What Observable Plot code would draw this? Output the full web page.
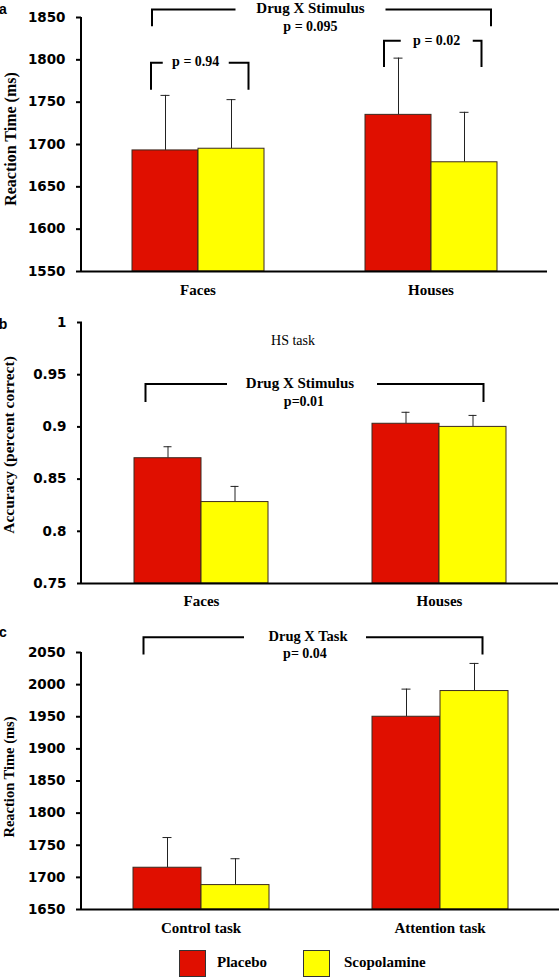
<!DOCTYPE html>
<html><head><meta charset="utf-8">
<script src="https://cdn.jsdelivr.net/npm/d3@7"></script>
<script src="https://cdn.jsdelivr.net/npm/@observablehq/plot@0.6"></script>
<style>
body{margin:0;background:#fff;}
#chart{width:560px;}
#chart svg{display:block;overflow:visible;}
g[aria-label^="y-axis"] text{font:bold 13.5px "DejaVu Sans",Verdana,sans-serif;fill:#000;}
g[aria-label="y-axis tick"]{stroke:#000;stroke-width:2px;}
g[aria-label^="fx-axis"] text{font:bold 15px "Liberation Serif","Times New Roman",serif;fill:#000;}
.legend{position:relative;height:38px;width:560px;font:bold 15px "Liberation Serif","Times New Roman",serif;}
.legend .sw{position:absolute;top:10px;width:25px;height:25px;border:1px solid #333;}
.legend .lb{position:absolute;top:15px;line-height:15px;}
</style></head><body><div id="chart"></div><script>
// ---- shared ----
const drugs = ["Placebo", "Scopolamine"];
const colors = ["#e00f00", "#ffff00"];

// ---- panel a ----
const aGroups = ["Faces", "Houses"];
const aPlacebo = [1693, 1735];
const aPlaceboErr = [65, 67];
const aScop = [1695, 1679];
const aScopErr = [58, 59];
const aTicks = [1550, 1600, 1650, 1700, 1750, 1800, 1850];

// ---- panel b ----
const bGroups = ["Faces", "Houses"];
const bPlacebo = [0.870, 0.903];
const bPlaceboErr = [0.011, 0.011];
const bScop = [0.828, 0.900];
const bScopErr = [0.015, 0.011];
const bTicks = [0.75, 0.8, 0.85, 0.9, 0.95, 1];

// ---- panel c ----
const cGroups = ["Control task", "Attention task"];
const cPlacebo = [1715, 1950];
const cPlaceboErr = [47, 43];
const cScop = [1688, 1990];
const cScopErr = [41, 43];
const cTicks = [1650, 1700, 1750, 1800, 1850, 1900, 1950, 2000, 2050];

const SERIF = '"Liberation Serif","Times New Roman",serif';
const SANS = '"Liberation Sans",Arial,sans-serif';
const container = document.getElementById("chart");

function panel(cfg) {
  const rows = [];
  cfg.groups.forEach((g, i) => {
    rows.push({group: g, drug: drugs[0], value: cfg.placebo[i], err: cfg.placeboErr[i]});
    rows.push({group: g, drug: drugs[1], value: cfg.scop[i], err: cfg.scopErr[i]});
  });
  const base = cfg.ticks[0];
  const svg = Plot.plot({
    width: 560, height: cfg.height,
    marginTop: cfg.mt, marginBottom: cfg.mb, marginLeft: 81, marginRight: cfg.mr,
    facet: {data: rows, x: "group", label: null},
    fx: {domain: cfg.groups, padding: 0, label: null, axis: "bottom", tickSize: 0, tickPadding: cfg.fxPad},
    x: {domain: drugs, axis: null, paddingInner: 0, paddingOuter: cfg.pad},
    y: {domain: [cfg.ticks[0], cfg.ticks[cfg.ticks.length - 1]], ticks: cfg.ticks, tickFormat: d => String(d), tickSize: 5, tickPadding: 11, label: null},
    color: {domain: drugs, range: colors},
    marks: [
      Plot.ruleX(rows, {x: "drug", y1: "value", y2: d => d.value + d.err, stroke: "#222", strokeWidth: 1}),
      Plot.tickY(rows, {x: "drug", y: d => d.value + d.err, stroke: "#222", strokeWidth: 1, insetLeft: cfg.capInset, insetRight: cfg.capInset}),
      Plot.barY(rows, {x: "drug", y1: base, y2: "value", fill: "drug", stroke: "#3a2a20", strokeWidth: 1}),
      Plot.ruleY([base], {stroke: "#000", strokeWidth: 2})
    ]
  });
  container.appendChild(svg);

  const ys = svg.scale("y");
  const Y = d3.scaleLinear().domain(ys.domain).range(ys.range);
  const sr = svg.getBoundingClientRect();
  const bars = Array.from(svg.querySelectorAll('g[aria-label="bar"] rect'))
    .map(r => { const b = r.getBoundingClientRect(); return {x: b.left - sr.left, w: b.width}; })
    .sort((p, q) => p.x - q.x);
  const cx = (gi, di) => { const b = bars[gi * 2 + di]; return b.x + b.w / 2; };

  const o = d3.select(svg).append("g").attr("aria-label", "annotations");
  // y-axis line
  o.append("line").attr("x1", 81).attr("x2", 81)
    .attr("y1", Y(cfg.ticks[cfg.ticks.length - 1])).attr("y2", Y(base))
    .attr("stroke", "#000").attr("stroke-width", 2);
  // y title
  o.append("text").attr("transform", `translate(${cfg.tx},${cfg.ty}) rotate(-90)`)
    .attr("text-anchor", "middle").attr("font-family", SERIF).attr("font-weight", "bold")
    .attr("font-size", cfg.tsize).attr("fill", "#000").text(cfg.ytitle);
  // panel letter
  o.append("text").attr("x", 3).attr("y", cfg.ly).attr("font-family", SANS).attr("font-weight", "bold")
    .attr("font-size", 14).attr("fill", "#000").text(cfg.letter);
  // extra plain text
  (cfg.extra || []).forEach(t => {
    o.append("text").attr("x", t.x).attr("y", t.y).attr("text-anchor", "middle")
      .attr("font-family", SERIF).attr("font-size", t.size).attr("fill", "#000").text(t.text);
  });
  // brackets
  cfg.brackets.forEach(br => {
    const x1 = cx(br.from[0], br.from[1]) + br.from[2];
    const x2 = cx(br.to[0], br.to[1]) + br.to[2];
    const yt = Y(br.top), yp = Y(br.tip);
    const mid = (x1 + x2) / 2 + br.textDx;
    o.append("path")
      .attr("d", `M${x1},${yp}V${yt}H${mid - br.gap}M${mid + br.gap},${yt}H${x2}V${yp}`)
      .attr("fill", "none").attr("stroke", "#000").attr("stroke-width", 2);
    br.labels.forEach(([text, dy, size, dx = 0]) => {
      o.append("text").attr("x", mid + dx).attr("y", yt + dy).attr("text-anchor", "middle")
        .attr("font-family", SERIF).attr("font-weight", "bold").attr("font-size", size)
        .attr("fill", "#000").text(text);
    });
  });
}

panel({
  groups: aGroups, placebo: aPlacebo, placeboErr: aPlaceboErr, scop: aScop, scopErr: aScopErr, ticks: aTicks,
  height: 300, mt: 17, mb: 29, mr: 13, pad: 0.765, fxPad: 13, capInset: 28.5,
  ytitle: "Reaction Time (ms)", tsize: 16, tx: 16, ty: 139, letter: "a", ly: 14,
  brackets: [
    {from: [0, 0, -13], to: [1, 1, 27], top: 1859, tip: 1839, textDx: -11, gap: 75,
     labels: [["Drug X Stimulus", 4, 15], ["p = 0.095", 22, 14]]},
    {from: [0, 0, -14], to: [0, 1, 17.5], top: 1796, tip: 1764, textDx: -4, gap: 33,
     labels: [["p = 0.94", 3, 14]]},
    {from: [1, 0, -14], to: [1, 1, 17.5], top: 1822, tip: 1791, textDx: 4, gap: 36,
     labels: [["p = 0.02", 4, 14]]}
  ]
});

panel({
  groups: bGroups, placebo: bPlacebo, placeboErr: bPlaceboErr, scop: bScop, scopErr: bScopErr, ticks: bTicks,
  height: 320, mt: 22, mb: 37, mr: 2, pad: 0.754, fxPad: 11.5, capInset: 29.5,
  ytitle: "Accuracy (percent correct)", tsize: 15.5, tx: 14, ty: 145, letter: "b", ly: 29,
  extra: [{text: "HS task", x: 293, y: 45, size: 14}],
  brackets: [
    {from: [0, 0, -22], to: [1, 1, 11], top: 0.9406, tip: 0.9234, textDx: -12.5, gap: 75,
     labels: [["Drug X Stimulus", 4, 15, -2], ["p=0.01", 22, 14, 2]]}
  ]
});

panel({
  groups: cGroups, placebo: cPlacebo, placeboErr: cPlaceboErr, scop: cScop, scopErr: cScopErr, ticks: cTicks,
  height: 320, mt: 32, mb: 31, mr: 1, pad: 0.74, fxPad: 12.5, capInset: 29.5,
  ytitle: "Reaction Time (ms)", tsize: 14.5, tx: 14, ty: 157, letter: "c", ly: 17,
  brackets: [
    {from: [0, 0, -23.5], to: [1, 1, 8.5], top: 2073, tip: 2046, textDx: -8, gap: 61,
     labels: [["Drug X Task", 4, 14.5, 3], ["p= 0.04", 21, 14, 0]]}
  ]
});

// legend
const legend = d3.select(container).append("div").attr("class", "legend");
const legendX = [[179, 217], [303, 344]];
drugs.forEach((d, i) => {
  legend.append("span").attr("class", "sw").style("left", legendX[i][0] + "px").style("background", colors[i]);
  legend.append("span").attr("class", "lb").style("left", legendX[i][1] + "px").text(d);
});
</script></body></html>
